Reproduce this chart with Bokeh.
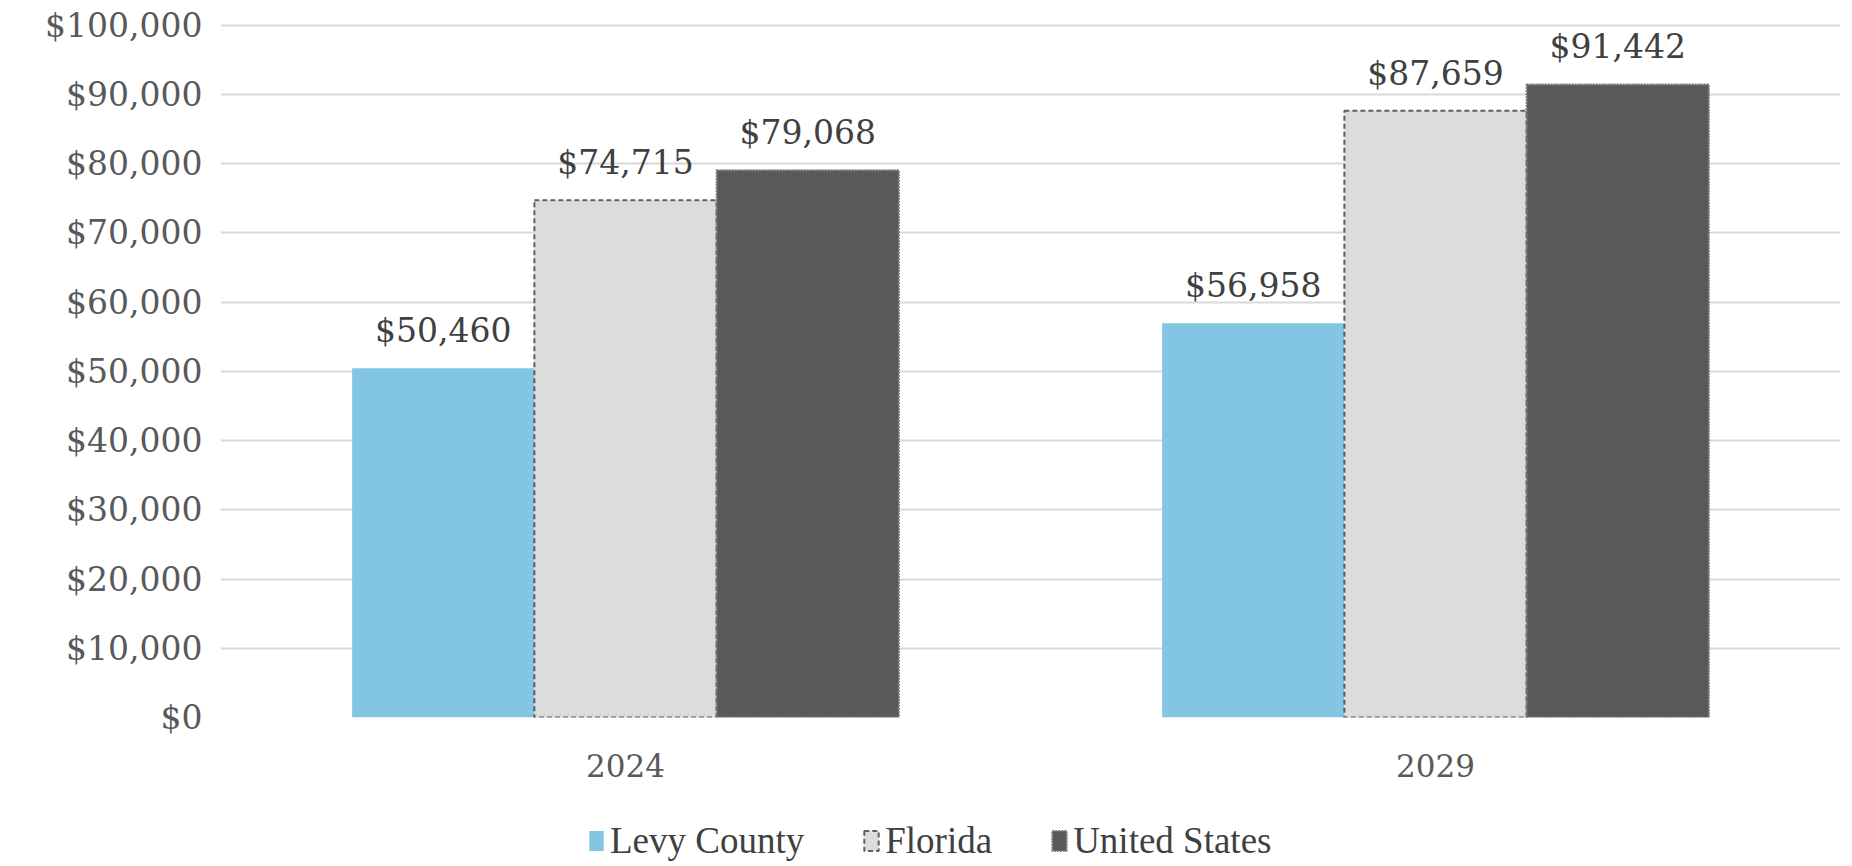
from bokeh.plotting import figure
from bokeh.layouts import column
from bokeh.models import ColumnDataSource, Range1d, FactorRange, NumeralTickFormatter, FixedTicker, Legend, LegendItem
from bokeh.transform import dodge
from bokeh.core.properties import value
from bokeh.embed import file_html
from bokeh.resources import INLINE

years = ["2024", "2029"]
series = ["Levy County", "Florida", "United States"]
levy = [50460, 56958]
florida = [74715, 87659]
usa = [79068, 91442]
y_ticks = [0, 10000, 20000, 30000, 40000, 50000, 60000, 70000, 80000, 90000, 100000]

def fmt(v):
    return "${:,}".format(v)

src = ColumnDataSource(dict(
    years=years,
    levy=levy, florida=florida, usa=usa,
    levy_lbl=[fmt(v) for v in levy],
    florida_lbl=[fmt(v) for v in florida],
    usa_lbl=[fmt(v) for v in usa],
))

SERIF = "DejaVu Serif"
LEVY_STYLE = dict(fill_color="#83C6E3", line_color=None)
FL_STYLE = dict(fill_color="#DCDCDC", line_color="#5f5f5f", line_width=2, line_dash="5 3")
US_STYLE = dict(fill_color="#595959", line_color="#7a7a7a", line_width=2, line_dash="2 1")

p = figure(frame_width=1620, frame_height=694, x_range=FactorRange(factors=years),
           y_range=Range1d(0, 100250), output_backend="svg", toolbar_location=None,
           min_border_left=220, min_border_top=23, min_border_bottom=70, min_border_right=0)
p.outline_line_color = None
p.background_fill_color = "white"

w = 0.225
p.vbar(x=dodge("years", -w, range=p.x_range), top="levy", width=w, source=src, **LEVY_STYLE)
p.vbar(x=dodge("years", 0, range=p.x_range), top="florida", width=w, source=src, **FL_STYLE)
p.vbar(x=dodge("years", w, range=p.x_range), top="usa", width=w, source=src, **US_STYLE)

for off, col in [(-w, "levy"), (0, "florida"), (w, "usa")]:
    p.text(x=dodge("years", off, range=p.x_range), y=col, text=col + "_lbl", source=src,
           text_align="center", text_baseline="bottom", y_offset=-18,
           text_font=value(SERIF), text_font_size="33px", text_color="#404040")

p.yaxis.ticker = FixedTicker(ticks=y_ticks)
p.yaxis.formatter = NumeralTickFormatter(format="$0,0")
p.yaxis.axis_line_color = None
p.yaxis.major_tick_line_color = None
p.yaxis.minor_tick_line_color = None
p.yaxis.major_label_standoff = 12
p.yaxis.major_label_text_font = SERIF
p.yaxis.major_label_text_font_size = "33px"
p.yaxis.major_label_text_color = "#595959"

p.xaxis.axis_line_color = None
p.xaxis.major_tick_line_color = None
p.xaxis.minor_tick_line_color = None
p.xaxis.major_label_standoff = 30
p.xaxis.major_label_text_font = SERIF
p.xaxis.major_label_text_font_size = "31px"
p.xaxis.major_label_text_color = "#595959"

p.xgrid.grid_line_color = None
p.ygrid.grid_line_color = "#D9D9D9"
p.ygrid.grid_line_width = 2

# legend strip below the chart: hidden renderers, legend shows their glyphs without fading
leg = figure(width=1840, height=76, x_range=FactorRange(factors=years), y_range=Range1d(0, 100000),
             output_backend="svg", toolbar_location=None, min_border=0)
leg.axis.visible = False
leg.grid.visible = False
leg.outline_line_color = None
g1 = leg.vbar(x="years", top="levy", width=w, source=src, **LEVY_STYLE)
g2 = leg.vbar(x="years", top="florida", width=w, source=src, **FL_STYLE)
g3 = leg.vbar(x="years", top="usa", width=w, source=src, **US_STYLE)
for g in (g1, g2, g3):
    g.visible = False
legend = Legend(items=[LegendItem(label=series[0], renderers=[g1]),
                       LegendItem(label=series[1], renderers=[g2]),
                       LegendItem(label=series[2], renderers=[g3])],
                orientation="horizontal", location=(367, 1),
                label_text_font="Liberation Serif", label_text_font_size="37px",
                label_text_color="#404040", glyph_width=18, glyph_height=25,
                label_standoff=5, spacing=58, border_line_color=None,
                background_fill_alpha=0, padding=0, margin=0,
                inactive_fill_alpha=0)
leg.add_layout(legend, "center")

layout = column(p, leg, spacing=0)
open("out.html", "w").write(file_html(layout, INLINE))
